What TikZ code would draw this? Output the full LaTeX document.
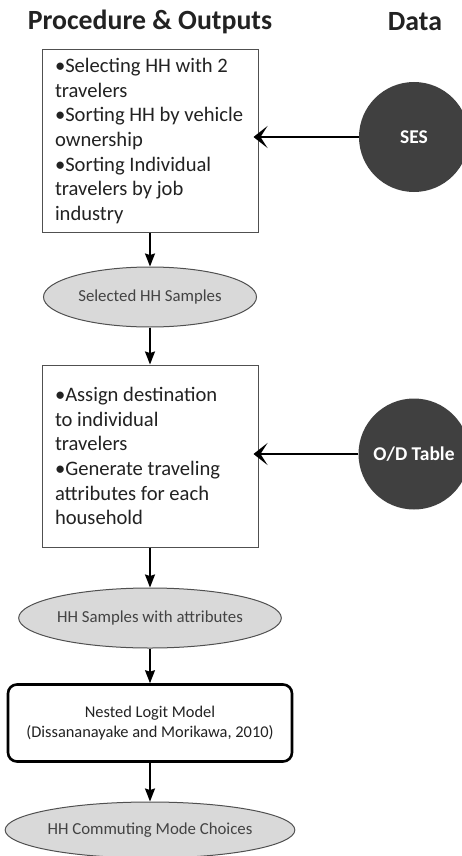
\documentclass[tikz,border=0pt]{standalone}
\usepackage{fontspec}
\setmainfont{Carlito}
\usetikzlibrary{arrows.meta,shapes.geometric}
\definecolor{circfill}{HTML}{404040}
\definecolor{ellfill}{HTML}{D9D9D9}
\definecolor{edgegray}{HTML}{505050}
\definecolor{txt}{HTML}{222222}
\begin{document}
\begin{tikzpicture}[x=1pt,y=-1pt,
  title/.style={font=\fontsize{27.8}{32}\selectfont\bfseries, text=txt, inner sep=0pt},
  stepbox/.style={draw=edgegray, line width=1pt, fill=white, minimum width=216pt, minimum height=182pt,
    text width=190pt, inner xsep=13pt, inner ysep=0pt,
    align=flush left, text=txt, font=\fontsize{20.6}{24.7}\selectfont},
  outell/.style={ellipse, draw=edgegray, line width=1pt, fill=ellfill, inner sep=0pt,
    text=txt!85!white, font=\fontsize{16.8}{20}\selectfont},
  datacirc/.style={circle, fill=circfill, inner sep=0pt, text=white, font=\fontsize{19.5}{23}\selectfont\bfseries},
  model/.style={draw=black, line width=2.6pt, rounded corners=9pt, fill=white, minimum width=284pt, minimum height=77pt,
    align=center, text=txt, font=\fontsize{16.4}{20.5}\selectfont, inner sep=0pt},
  flow/.style={-{Stealth[length=13pt,width=10pt,inset=1.5pt]}, line width=1.6pt, black},
  feed/.style={-{Stealth[length=14pt,width=22pt,inset=7pt]}, line width=2pt, black}
]
\useasboundingbox (0,0) rectangle (462,856);
\clip (0,0) rectangle (462,856);

\node[title] (t1) at (150,22) {Procedure \& Outputs};
\node[title] (t2) at (415,22) {Data};

\node[stepbox] (box1) at (150,141) {\mbox{•Selecting HH with 2}\\travelers\\\mbox{•Sorting HH by vehicle}\\ownership\\\mbox{•Sorting Individual}\\travelers by job\\industry};
\node[outell, minimum width=213pt, minimum height=60pt] (ell1) at (150,297) {Selected HH Samples};
\node[stepbox] (box2) at (150,456) {\mbox{•Assign destination}\\to individual\\travelers\\\mbox{•Generate traveling}\\\mbox{attributes for each}\\household};
\node[outell, minimum width=213pt, minimum height=60pt] (ell2) at (150,618) {HH Samples with attributes};
\node[model] (nlm) at (150,723) {Nested Logit Model\\(Dissananayake and Morikawa, 2010)};
\node[outell, minimum width=231pt, minimum height=56pt] (ell3) at (150,830) {HH Commuting Mode Choices};

\node[datacirc, minimum size=110pt] (ses) at (414,137) {SES};
\node[datacirc, minimum size=111pt] (od) at (414,454) {O/D Table};

\draw[flow] (box1) -- (ell1);
\draw[flow] (ell1) -- (box2);
\draw[flow] (box2) -- (ell2);
\draw[flow] (ell2) -- (nlm);
\draw[flow] (nlm) -- (ell3);

\draw[feed, shorten >=-5pt] (ses.west) -- (box1.east |- ses.west);
\draw[feed, shorten >=-5pt] (od.west) -- (box2.east |- od.west);
\end{tikzpicture}
\end{document}
